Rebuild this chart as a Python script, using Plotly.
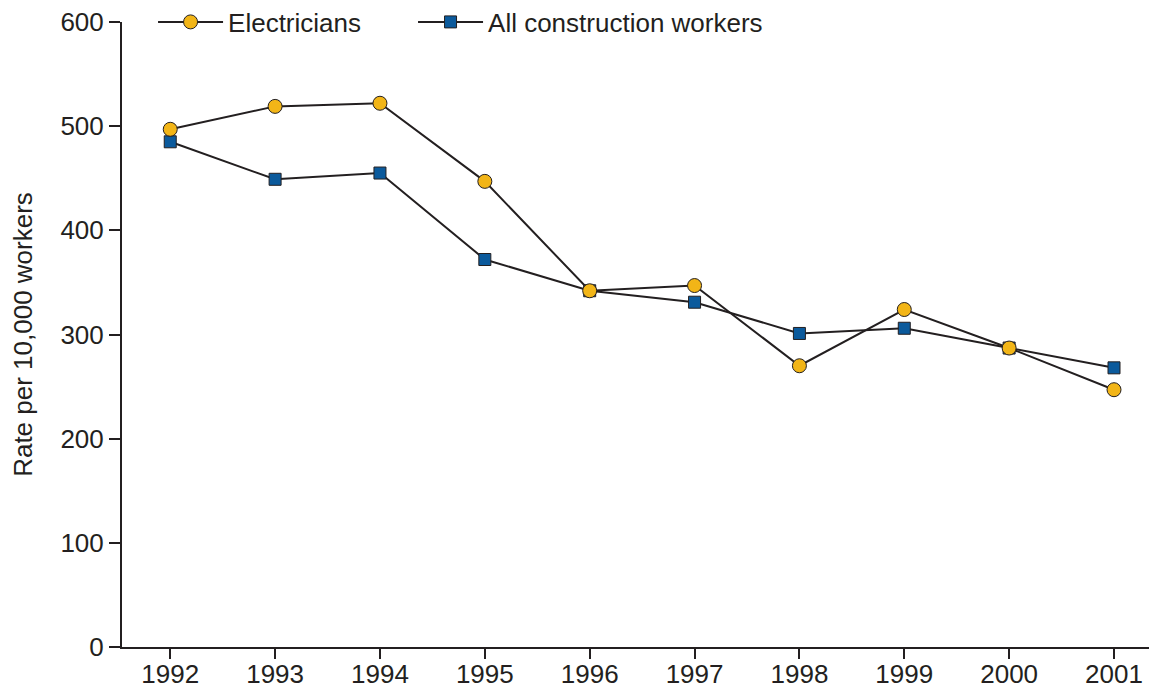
import plotly.graph_objects as go

years = [1992, 1993, 1994, 1995, 1996, 1997, 1998, 1999, 2000, 2001]
electricians = [497, 519, 522, 447, 342, 347, 270, 324, 287, 247]
all_construction = [485, 449, 455, 372, 342, 331, 301, 306, 287, 268]
y_ticks = [0, 100, 200, 300, 400, 500, 600]

line_color = '#231F20'
font = dict(family='Liberation Sans, Arial, sans-serif', size=26, color='#231F20')

fig = go.Figure()

# squares first so the circles sit on top, as in the original
fig.add_trace(go.Scatter(
    x=years, y=all_construction,
    mode='lines+markers',
    name='All construction workers',
    line=dict(color=line_color, width=2),
    marker=dict(symbol='square', size=12, color='#0B5A9C',
                line=dict(color=line_color, width=1)),
    legend='legend2'
))

fig.add_trace(go.Scatter(
    x=years, y=electricians,
    mode='lines+markers',
    name='Electricians',
    line=dict(color=line_color, width=2),
    marker=dict(symbol='circle', size=14, color='#F2B517',
                line=dict(color=line_color, width=1)),
    legend='legend'
))

legend_style = dict(y=1.0, xanchor='left', yanchor='middle', font=dict(size=26),
                    itemwidth=65, bgcolor='rgba(0,0,0,0)', borderwidth=0)

# the page body has an 8px margin, so the figure is shrunk to fit the window
fig.update_layout(
    width=1149, height=681,
    margin=dict(l=114, r=0, t=14, b=42, autoexpand=False),
    paper_bgcolor='white',
    plot_bgcolor='white',
    font=font,
    legend=dict(x=0.030, **legend_style),
    legend2=dict(x=0.2812, **legend_style),
    showlegend=True
)

fig.update_xaxes(
    range=[1991.54, 2001.41],
    tickvals=years,
    ticks='outside', ticklen=10, tickwidth=2, tickcolor=line_color,
    showline=True, linecolor=line_color, linewidth=2,
    showgrid=False, zeroline=False, automargin=False,
    ticklabelstandoff=-7, ticklabeloverflow='allow',
    tickfont=dict(size=26)
)

fig.update_yaxes(
    range=[0, 600],
    tickvals=y_ticks,
    ticks='outside', ticklen=11, tickwidth=2, tickcolor=line_color,
    showline=True, linecolor=line_color, linewidth=2,
    showgrid=False, zeroline=False, automargin=False,
    ticklabeloverflow='allow',
    title=dict(text='Rate per 10,000 workers', standoff=32, font=dict(size=26)),
    tickfont=dict(size=26)
)

fig.write_html("out.html")
